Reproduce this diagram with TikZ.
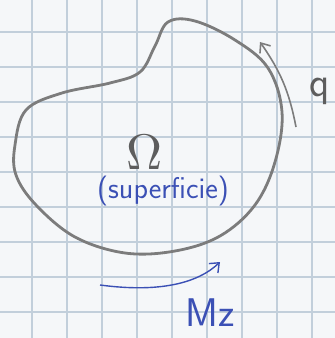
\documentclass[tikz,border=0pt]{standalone}
\usepackage{fontspec}
\usepackage{tikz}
\usetikzlibrary{positioning, arrows.meta}
\definecolor{paper}{HTML}{F5F7F9}
\definecolor{gridline}{HTML}{C2CFDB}
\definecolor{pencil}{HTML}{7C7C7C}
\definecolor{ink}{HTML}{3B50B5}

\begin{document}
\begin{tikzpicture}[
    x=1pt, y=-1pt,
    gridstyle/.style={draw=gridline, line width=1.2pt},
    outline/.style={draw=pencil, line width=2.8pt},
    flowarrow/.style={draw=pencil, line width=1.6pt, -{Straight Barb[length=8pt,width=13pt]}},
    momentarrow/.style={draw=ink, line width=1.4pt, -{Straight Barb[length=8pt,width=13pt]}},
    every node/.style={inner sep=0pt, font=\sffamily}
]
\fill[paper] (0,0) rectangle (335,338);
\useasboundingbox (0,0) rectangle (335,338);

% squared paper
\foreach \k in {0,...,8} {
    \draw[gridstyle] (32+35*\k,0) -- (32+35*\k,338);
    \draw[gridstyle] (0,32+35*\k) -- (335,32+35*\k);
}

% section outline
\draw[outline] plot[smooth cycle, tension=0.6] coordinates {
    (15,145) (26,110) (62,93) (110,83) (140,72) (155,46) (168,22)
    (195,21) (235,40) (268,68) (282,112) (275,162) (255,205)
    (220,236) (175,251) (125,253) (75,237) (36,205) (16,175)};

% labels
\node[scale=5, text=pencil!75!black] (omega) at (145,152) {$\Omega$};
\node (surf) at (163,191) {\fontsize{30}{32}\selectfont\color{ink}(superficie)};
\node (qlabel) at (320,91) {\fontsize{42}{42}\selectfont\color{pencil!75!black}q};
\node (mz) at (210,313) {\fontsize{40}{40}\selectfont\color{ink}Mz};

% flow and moment
\coordinate (q0) at (296,127);
\coordinate (q1) at (260,42);
\coordinate (m0) at (100,285);
\coordinate (m1) at (220,262);
\draw[flowarrow] (q0) to[bend right=12] (q1);
\draw[momentarrow] (m0) .. controls (160,293) and (198,283) .. (m1);
\end{tikzpicture}
\end{document}
